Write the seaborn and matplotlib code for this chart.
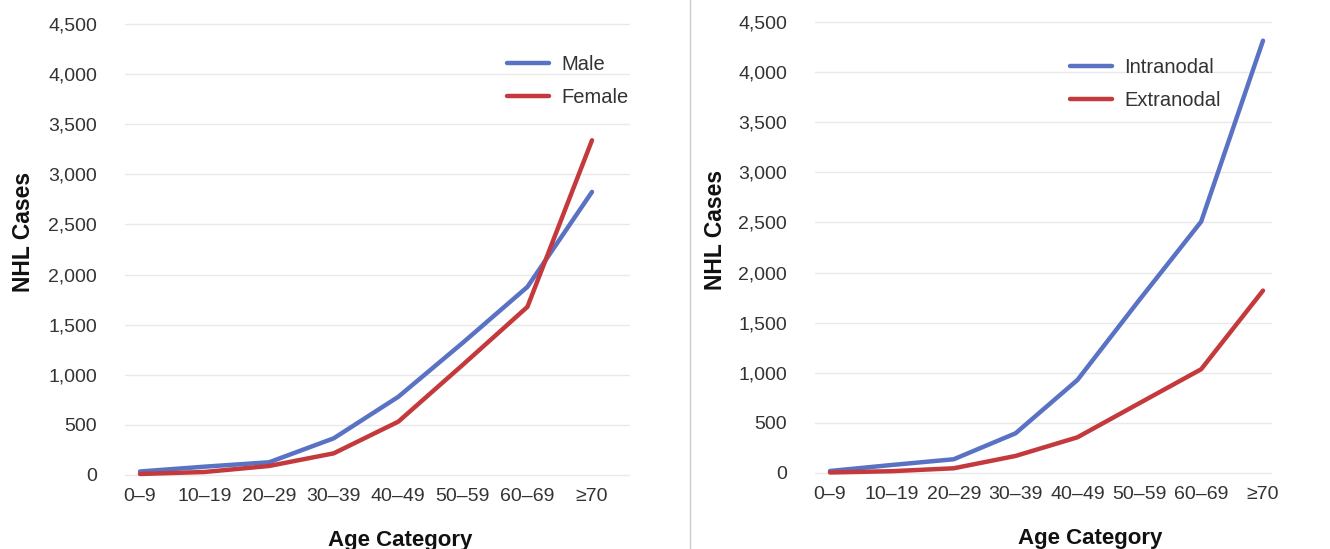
import matplotlib
matplotlib.use("Agg")
import matplotlib.pyplot as plt
import seaborn as sns
import pandas as pd
from matplotlib.ticker import FuncFormatter
from matplotlib.lines import Line2D

age_categories = ["0–9", "10–19", "20–29", "30–39", "40–49", "50–59", "60–69", "≥70"]
male = [35, 83, 127, 366, 780, 1320, 1877, 2825]
female = [10, 30, 90, 216, 532, 1100, 1678, 3340]
intranodal = [20, 80, 137, 396, 928, 1726, 2508, 4314]
extranodal = [5, 18, 47, 170, 356, 696, 1035, 1820]
y_ticks = [0, 500, 1000, 1500, 2000, 2500, 3000, 3500, 4000, 4500]

BLUE = "#5a72c4"
RED = "#c4393c"

sns.set_theme(style="white")
plt.rcParams["font.family"] = ["Liberation Sans", "DejaVu Sans"]

W, H = 1330, 549
fig = plt.figure(figsize=(W / 100, H / 100), dpi=100)


def add_axes_px(left, right, top, bottom):
    return fig.add_axes([left / W, (H - bottom) / H, (right - left) / W, (bottom - top) / H])


def draw(ax, s1, s2, n1, n2, x0_px, x7_px, left_px, right_px, leg_xy, xlab_x, ylab_x):
    df = pd.DataFrame({
        "Age": age_categories * 2,
        "Cases": s1 + s2,
        "Series": [n1] * len(s1) + [n2] * len(s2),
    })
    sns.lineplot(data=df, x="Age", y="Cases", hue="Series", palette=[BLUE, RED],
                 linewidth=3.2, ax=ax, legend=False, sort=False)
    scale = (x7_px - x0_px) / 7.0
    ax.set_xlim(-(x0_px - left_px) / scale, 7 + (right_px - x7_px) / scale)
    ax.set_ylim(-50, 4550)
    ax.set_yticks(y_ticks)
    ax.yaxis.set_major_formatter(FuncFormatter(lambda v, p: f"{int(v):,}"))
    ax.set_xticks(range(len(age_categories)))
    ax.set_xticklabels(age_categories)
    ax.grid(axis="y", color="#e9e9e9", linewidth=1.0)
    ax.grid(axis="x", visible=False)
    for sp in ax.spines.values():
        sp.set_visible(False)
    ax.tick_params(axis="y", length=0, pad=20, labelsize=14, labelcolor="#333333")
    ax.tick_params(axis="x", length=0, pad=6, labelsize=14, labelcolor="#333333")
    ax.set_ylabel("NHL Cases", fontsize=16.5, fontweight="bold", color="#111111")
    ax.set_xlabel("Age Category", fontsize=16, fontweight="bold", color="#111111")
    ax.yaxis.set_label_coords(ylab_x, 0.538)
    ax.xaxis.set_label_coords(xlab_x, -0.131)
    ax.xaxis.label.set_va("center")
    handles = [Line2D([0], [0], color=BLUE, lw=3.2), Line2D([0], [0], color=RED, lw=3.2)]
    ax.legend(handles, [n1, n2], loc="upper left", bbox_to_anchor=leg_xy, frameon=False,
              fontsize=14.5, handlelength=2.1, handletextpad=0.6, labelspacing=0.7,
              borderpad=0, borderaxespad=0)
    for t in ax.get_legend().get_texts():
        t.set_color("#333333")


ax1 = add_axes_px(125, 630, 19, 480)
draw(ax1, male, female, "Male", "Female", 140, 592, 125, 630, (0.756, 0.922), 0.545, -0.178)

ax2 = add_axes_px(815, 1272, 17, 478)
draw(ax2, intranodal, extranodal, "Intranodal", "Extranodal", 830, 1263, 815, 1272, (0.558, 0.912), 0.602, -0.193)

fig.add_artist(Line2D([690 / W, 690 / W], [0, 1], color="#cccccc", lw=1.0, transform=fig.transFigure))

fig.savefig("out.png", dpi=100)
